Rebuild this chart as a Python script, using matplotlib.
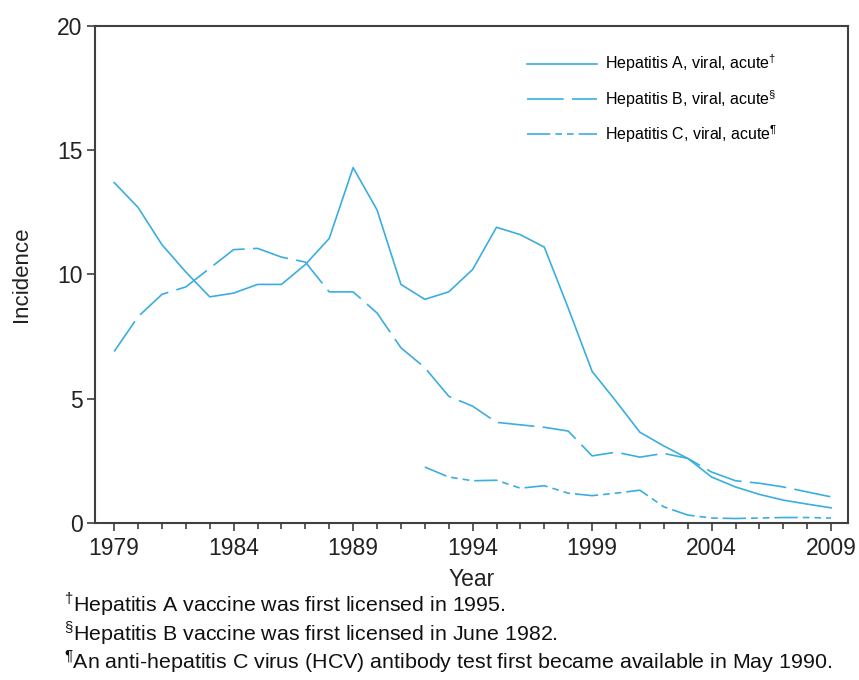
import numpy as np
import matplotlib.pyplot as plt
from matplotlib.ticker import MultipleLocator

plt.rcParams['font.family'] = ['Liberation Sans', 'DejaVu Sans']
plt.rcParams['mathtext.fontset'] = 'custom'
plt.rcParams['mathtext.rm'] = 'Liberation Sans'

# 数据
years = list(range(1979, 2010))
hep_a = [13.7, 12.7, 11.2, 10.1, 9.1, 9.25, 9.6, 9.6, 10.4, 11.45, 14.3,
         12.6, 9.6, 9.0, 9.3, 10.2, 11.9, 11.6, 11.1, 8.65, 6.1,
         4.9, 3.65, 3.1, 2.6, 1.85, 1.45, 1.15, 0.92, 0.76, 0.61]
hep_b = [6.9, 8.3, 9.2, 9.5, 10.25, 11.0, 11.05, 10.7, 10.5, 9.3, 9.3,
         8.45, 7.05, 6.25, 5.1, 4.7, 4.05, 3.95, 3.85, 3.7, 2.7,
         2.85, 2.65, 2.8, 2.6, 2.05, 1.7, 1.6, 1.45, 1.25, 1.05]
years_c = list(range(1992, 2010))
hep_c = [2.25, 1.85, 1.7, 1.72, 1.4, 1.5, 1.2, 1.1, 1.2, 1.32,
         0.65, 0.32, 0.2, 0.18, 0.2, 0.22, 0.22, 0.2]

labels = [r'Hepatitis A, viral, acute$^{†}$',
          r'Hepatitis B, viral, acute$^{§}$',
          r'Hepatitis C, viral, acute$^{¶}$']
footnotes = [r'$^{†}$Hepatitis A vaccine was first licensed in 1995.',
             r'$^{§}$Hepatitis B vaccine was first licensed in June 1982.',
             r'$^{¶}$An anti-hepatitis C virus (HCV) antibody test first became available in May 1990.']

color = '#3aaee0'
spine_color = '#404040'
text_color = '#222222'

fig = plt.figure(figsize=(8.59, 6.8), dpi=100)
ax = fig.add_axes([0.1106, 0.2309, 0.8764, 0.7309])

ax.plot(years, hep_a, color=color, lw=1.2, label=labels[0])
ax.plot(years, hep_b, color=color, lw=1.2, dashes=(22, 5), label=labels[1])
ax.plot(years_c, hep_c, color=color, lw=1.2, dashes=(14, 3, 4, 3, 4, 3), label=labels[2])

ax.set_xlim(1978.2, 2009.7)
ax.set_ylim(0, 20)
ax.xaxis.set_minor_locator(MultipleLocator(1))
ax.set_xticks([1979, 1984, 1989, 1994, 1999, 2004, 2009])
ax.set_yticks([0, 5, 10, 15, 20])

for s in ax.spines.values():
    s.set_color(spine_color)
    s.set_linewidth(1.5)
ax.tick_params(axis='both', which='major', length=6, width=1.2, color=spine_color,
               labelsize=16.5, labelcolor=text_color, pad=3)
ax.tick_params(axis='x', which='major', pad=4)
ax.tick_params(axis='x', which='minor', length=4, width=1.2, color=spine_color)
ax.tick_params(axis='y', which='minor', left=False)

ax.set_xlabel('Year', fontsize=16.5, color=text_color, labelpad=6)
ax.set_ylabel('Incidence', fontsize=16, color=text_color, labelpad=18)

leg = ax.legend(loc='upper right', bbox_to_anchor=(0.925, 0.975), frameon=False,
                fontsize=11.5, handlelength=4.4, handletextpad=0.5, labelspacing=0.85)

for i, txt in enumerate(footnotes):
    fig.text(0.075, 0.111 - i * 0.042, txt, fontsize=15.4, color='#111111', va='center')

fig.savefig('out.png', dpi=100)
